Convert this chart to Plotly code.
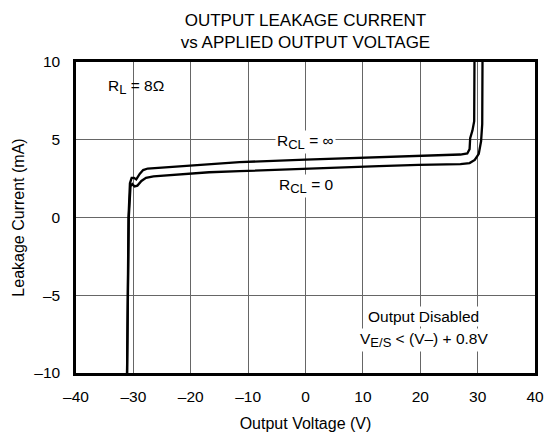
import plotly.graph_objects as go

# R_CL = infinity (upper curve)
v_inf = [-31.1, -30.85, -30.6, -30.3, -29.9, -29.5, -28.9, -28.3, -27.5, -25, -17, -11.5, 0, 12.8, 19.7, 27, 28.2, 28.6, 28.7, 29.1, 29.4, 29.45]
i_inf = [-10, 0, 2.2, 2.55, 2.55, 2.45, 2.8, 3.05, 3.15, 3.22, 3.45, 3.56, 3.72, 3.88, 3.98, 4.05, 4.12, 4.4, 5.1, 5.6, 6.2, 10]

# R_CL = 0 (lower curve)
v_0 = [-31.1, -30.8, -30.5, -30.2, -29.8, -29.3, -28.6, -27.8, -26.5, -24.5, -16.8, -11.5, 0, 12.8, 19.7, 27, 28.6, 29.5, 30.2, 30.6, 30.8, 30.85]
i_0 = [-10, 0, 2.0, 2.15, 2.0, 2.05, 2.35, 2.55, 2.65, 2.7, 2.91, 2.98, 3.15, 3.30, 3.38, 3.43, 3.5, 3.7, 4.1, 4.9, 6.0, 10]

x_ticks = [-40, -30, -20, -10, 0, 10, 20, 30, 40]
x_labels = ["–40", "–30", "–20", "–10", "0", "10", "20", "30", "40"]
y_ticks = [-10, -5, 0, 5, 10]
y_labels = ["–10", "–5", "0", "5", "10"]

FONT = "Liberation Sans, Arial, sans-serif"
FS = 15.5
SUB = "<sub><span style='font-size:13px'>{}</span></sub>"

fig = go.Figure()
fig.add_trace(go.Scatter(x=v_inf, y=i_inf, mode="lines", line=dict(color="black", width=2.3), showlegend=False))
fig.add_trace(go.Scatter(x=v_0, y=i_0, mode="lines", line=dict(color="black", width=2.3), showlegend=False))

ann = dict(showarrow=False, font=dict(family=FONT, size=FS, color="black"))
fig.add_annotation(x=-34.7, y=8.4, xanchor="left", text="R" + SUB.format("L") + " = 8Ω", **ann)
fig.add_annotation(x=0.0, y=4.85, text="R" + SUB.format("CL") + " = ∞", bgcolor="white", **ann)
fig.add_annotation(x=0.0, y=2.0, text="R" + SUB.format("CL") + " = 0", bgcolor="white", **ann)
fig.add_annotation(x=20.6, y=-6.37, text="Output Disabled", bgcolor="white", **ann)
fig.add_annotation(x=20.6, y=-7.85, text="V" + SUB.format("E/S") + " < (V–) + 0.8V", bgcolor="white", **ann)

fig.update_layout(
    width=552, height=439,
    margin=dict(l=76, r=17, t=62, b=66, autoexpand=False),
    paper_bgcolor="white", plot_bgcolor="white",
    font=dict(family=FONT, size=FS, color="black"),
    title=dict(text="OUTPUT LEAKAGE CURRENT<br>vs APPLIED OUTPUT VOLTAGE",
               xref="paper", x=0.5, xanchor="center", y=0.94, yanchor="top",
               font=dict(family=FONT, size=17, color="black"), automargin=False),
)
fig.update_xaxes(range=[-40, 40], tickvals=x_ticks, ticktext=x_labels, automargin=False,
                 showgrid=True, gridcolor="#666", gridwidth=1, zeroline=False,
                 showline=True, linecolor="black", linewidth=2.5, mirror=True,
                 ticks="outside", ticklen=8, tickcolor="rgba(0,0,0,0)",
                 title=dict(text="Output Voltage (V)", standoff=14, font=dict(size=16)))
fig.update_yaxes(range=[-10, 10], tickvals=y_ticks, ticktext=y_labels, automargin=False,
                 showgrid=True, gridcolor="#666", gridwidth=1, zeroline=False,
                 showline=True, linecolor="black", linewidth=2.5, mirror=True,
                 ticks="outside", ticklen=10, tickcolor="rgba(0,0,0,0)",
                 title=dict(text="Leakage Current (mA)", standoff=6, font=dict(size=16)))

fig.write_html("out.html", config={"displayModeBar": False},
               post_script="document.body.style.margin='0';")
